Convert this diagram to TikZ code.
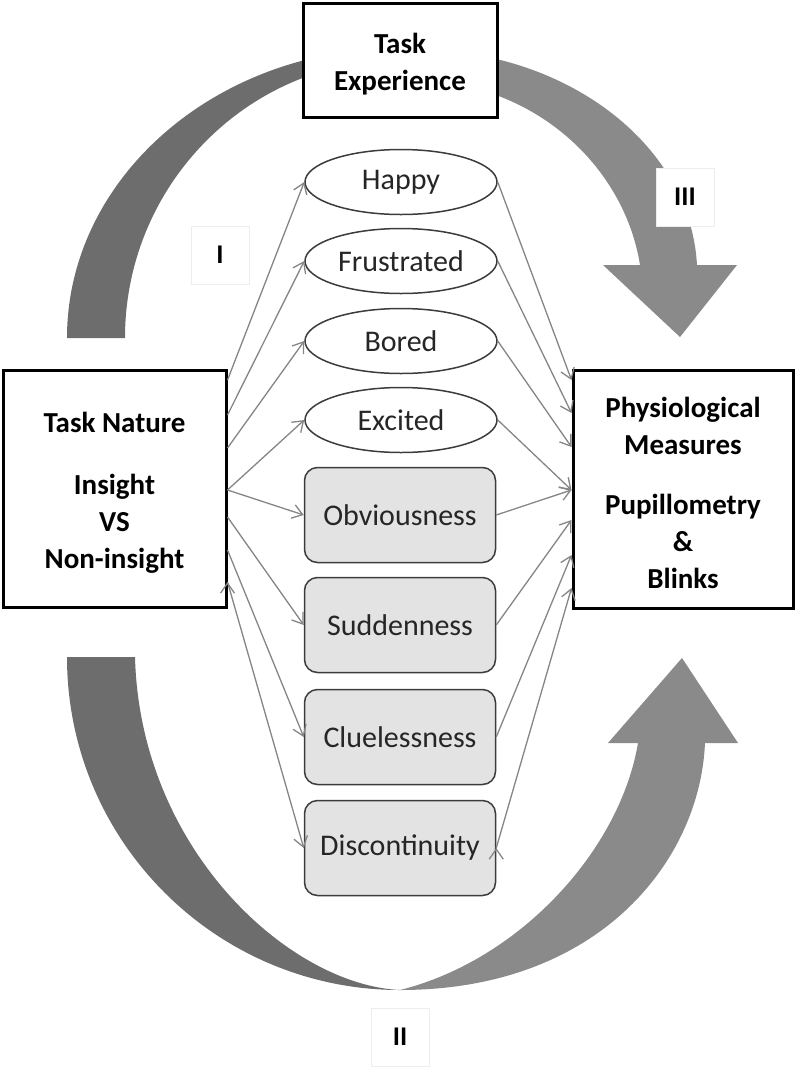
\documentclass[tikz,border=0pt]{standalone}
\usepackage{fontspec}
\setmainfont{Carlito}
\usetikzlibrary{shapes.geometric,arrows.meta}
\definecolor{arcdark}{HTML}{6D6D6D}
\definecolor{arclight}{HTML}{8A8A8A}
\definecolor{linkgray}{HTML}{858585}
\definecolor{boxfill}{HTML}{E3E3E3}
\definecolor{rimgray}{HTML}{3C3C3C}
\newcommand\topgap{\rule{0pt}{29pt}}
\tikzset{
  mainbox/.style={draw=black, line width=3pt, fill=white, align=center, inner sep=0pt,
    font=\fontsize{29}{37}\selectfont\bfseries},
  emotion/.style={ellipse, draw=rimgray, line width=1.5pt, fill=white, inner sep=0pt,
    minimum width=192pt, minimum height=65pt, text=black!85, font=\fontsize{30}{34}\selectfont},
  appraisal/.style={rectangle, rounded corners=13pt, draw=rimgray, line width=1.5pt, fill=boxfill,
    inner sep=0pt, minimum width=191pt, minimum height=95pt, text=black!85, font=\fontsize{30}{34}\selectfont},
  pathlabel/.style={draw=black!7, fill=white, minimum size=58pt, inner sep=0pt,
    font=\fontsize{27}{30}\selectfont\bfseries},
  link/.style={draw=linkgray, line width=1.3pt, -{Straight Barb[length=10pt,width=14pt]}},
}
\begin{document}
\begin{tikzpicture}[x=1pt, y=-1pt]
  \useasboundingbox (0,0) rectangle (795,1072);

  % broad arrows behind the boxes
  \fill[arcdark] (67,338) .. controls (67,178) and (216,48) .. (400,48)
    -- (400,60) .. controls (248,60) and (125,185) .. (125,338) -- cycle;
  \fill[arclight] (420,50) .. controls (560,50) and (690,140) .. (697,265)
    -- (737,265) -- (680,337) -- (603,265) -- (640,265)
    .. controls (625,170) and (540,85) .. (420,80) -- cycle;
  \fill[arcdark] (67,657) .. controls (67,841) and (216,990) .. (400,990)
    .. controls (290,985) and (140,850) .. (135,657) -- cycle;
  \fill[arclight] (400,990) .. controls (600,990) and (700,860) .. (705,743)
    -- (738,743) -- (682,658) -- (608,743) -- (638,743)
    .. controls (620,850) and (520,960) .. (400,990) -- cycle;

  % main boxes
  \node[mainbox, minimum width=194pt, minimum height=114pt] (exper) at (400,60)
    {\topgap Task\\Experience};
  \node[mainbox, minimum width=223pt, minimum height=237pt] (nature) at (114.5,488.5)
    {\topgap Task Nature\\[25pt]Insight\\VS\\Non-insight};
  \node[mainbox, minimum width=220pt, minimum height=238pt] (physio) at (683,489)
    {\topgap Physiological\\Measures\\[23pt]Pupillometry\\\&\\Blinks};

  % mediators
  \node[emotion] (happy) at (401,182) {Happy};
  \node[emotion] (frus) at (401,261) {Frustrated};
  \node[emotion] (bored) at (401,341) {Bored};
  \node[emotion] (excit) at (401,420) {Excited};
  \node[appraisal] (obvi) at (400,515) {Obviousness};
  \node[appraisal] (sudd) at (400,625) {Suddenness};
  \node[appraisal] (clue) at (400,737) {Cluelessness};
  \node[appraisal] (disc) at (400,848) {Discontinuity};

  % path labels
  \node[pathlabel] (lab1) at (220,255) {I};
  \node[pathlabel] (lab2) at (400,1037) {II};
  \node[pathlabel] (lab3) at (685,197) {III};

  % ports on the box sides
  \coordinate (n1) at (nature.east |- 0,380);
  \coordinate (n2) at (nature.east |- 0,415);
  \coordinate (n3) at (nature.east |- 0,448);
  \coordinate (n4) at (nature.east |- 0,490);
  \coordinate (n5) at (nature.east |- 0,517);
  \coordinate (n6) at (nature.east |- 0,550);
  \coordinate (n7) at (nature.east |- 0,582);
  \coordinate (p1) at (physio.west |- 0,380);
  \coordinate (p2) at (physio.west |- 0,413);
  \coordinate (p3) at (physio.west |- 0,447);
  \coordinate (p4) at (physio.west |- 0,490);
  \coordinate (p5) at (physio.west |- 0,520);
  \coordinate (p6) at (physio.west |- 0,555);
  \coordinate (p7) at (physio.west |- 0,588);

  \path[link]
    (n1) edge (happy.west)
    (n2) edge (frus.west)
    (n3) edge (bored.west)
    (n4) edge (excit.west) edge (obvi.west)
    (n5) edge (sudd.west)
    (n6) edge (clue.west)
    (n7) edge (disc.west);
  \path[link]
    (happy.east) edge (p1)
    (frus.east) edge (p2)
    (bored.east) edge (p3)
    (excit.east) edge (p4)
    (obvi.east) edge (p4)
    (sudd.east) edge (p5)
    (clue.east) edge (p6)
    (disc.east) edge (p7);
\end{tikzpicture}
\end{document}
